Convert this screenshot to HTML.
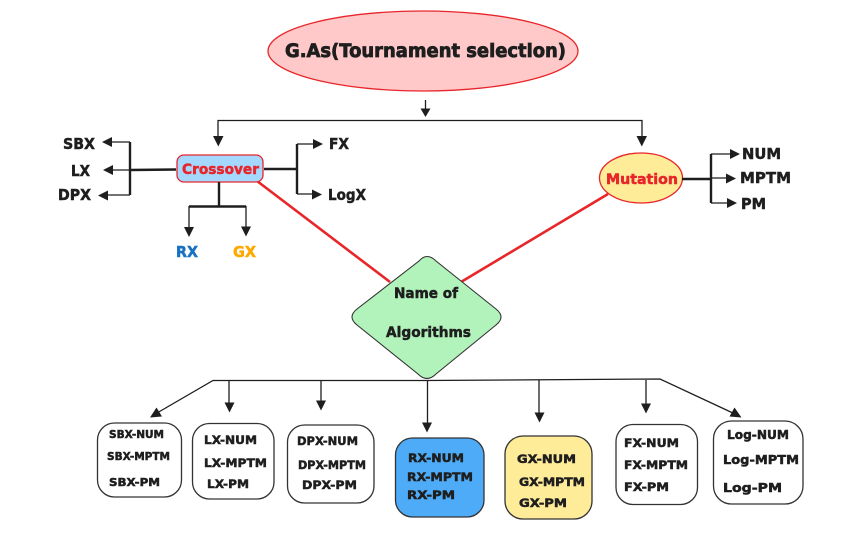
<!DOCTYPE html>
<html><head><meta charset="utf-8"><style>
html,body{margin:0;padding:0;background:#fff}
svg{display:block}
text{font-family:"DejaVu Sans","Liberation Sans",sans-serif;font-weight:bold;fill:#1e1e1e;stroke:#1e1e1e;stroke-width:.5}
.s{fill:none;stroke:#1e1e1e;stroke-width:1.3}
.b{fill:none;stroke:#1e1e1e;stroke-width:2.4}
.h{fill:#1e1e1e;stroke:none}
.box{stroke:#333;stroke-width:1.3;fill:#fff}
.l{font-size:15.5px}
</style></head><body>
<svg width="850" height="535" viewBox="0 0 850 535" xmlns="http://www.w3.org/2000/svg">
<rect width="850" height="535" fill="#fff"/>
<!-- red links -->
<path d="M257 181L390 282M608 194L461 282" fill="none" stroke="#e8262a" stroke-width="2.6"/>
<!-- title -->
<ellipse cx="423" cy="51" rx="155" ry="40" fill="#ffc9c9" stroke="#e8262a" stroke-width="1.3"/>
<text x="285" y="57" font-size="19" textLength="281" lengthAdjust="spacingAndGlyphs" style="stroke-width:.8">G.As(Tournament selection)</text>
<path class="s" d="M425.500 100V110"/><path class="h" d="M420.500 108.500h10l-5 8.500z"/>
<path class="s" d="M218 138V120.500H642V138"/>
<path class="h" d="M213 136h10.500l-5.200 10.500zM636.500 136h10.500l-5.200 10.500z"/>
<!-- crossover -->
<rect x="177" y="155" width="86" height="27" rx="7" fill="#a5d8ff" stroke="#e8262a" stroke-width="1.3"/>
<text x="182" y="174" font-size="14.500" textLength="77" lengthAdjust="spacingAndGlyphs" style="fill:#e8262a;stroke:#e8262a">Crossover</text>
<path class="b" d="M130 142V195M130 170L176 169.500M264 169H297M297 144V194M219 182V206M189 206.500H246"/>
<path class="s" d="M130 142H110M130 170H110M130 195H106M297 144H316M297 194H316M189 206V230M246 206V230"/>
<path class="h" d="M102 142l10-5v10zM103 170l10-5v10zM98 195.500l10-5v10zM323 144l-10-5v10zM322 194.500l-10-5v10zM189 237l-5-10h10zM246 236.500l-5-10h10z"/>
<text class="l" x="63" y="149" textLength="32" lengthAdjust="spacingAndGlyphs">SBX</text>
<text class="l" x="71" y="176" textLength="19" lengthAdjust="spacingAndGlyphs">LX</text>
<text class="l" x="58" y="200" textLength="33" lengthAdjust="spacingAndGlyphs">DPX</text>
<text class="l" x="329" y="149" textLength="20" lengthAdjust="spacingAndGlyphs">FX</text>
<text class="l" x="328" y="200" textLength="38" lengthAdjust="spacingAndGlyphs">LogX</text>
<text class="l" x="176" y="257" textLength="22" lengthAdjust="spacingAndGlyphs" style="fill:#1971c2;stroke:#1971c2">RX</text>
<text class="l" x="233" y="257" textLength="23" lengthAdjust="spacingAndGlyphs" style="fill:#ffa800;stroke:#ffa800">GX</text>
<!-- mutation -->
<ellipse cx="641" cy="178" rx="41.500" ry="25" fill="#ffec99" stroke="#e8262a" stroke-width="1.300"/>
<text x="606" y="184" font-size="14.500" textLength="72" lengthAdjust="spacingAndGlyphs" style="fill:#e8262a;stroke:#e8262a">Mutation</text>
<path class="b" d="M682 179H711M711 154V203"/>
<path class="s" d="M711 154H733M711 178H730M711 203H731"/>
<path class="h" d="M740 154l-10-5v10zM736 178.500l-10-5v10zM737 203l-10-5v10z"/>
<text class="l" x="742" y="159" textLength="39" lengthAdjust="spacingAndGlyphs">NUM</text>
<text class="l" x="740" y="183" textLength="51" lengthAdjust="spacingAndGlyphs">MPTM</text>
<text class="l" x="741" y="209" textLength="25" lengthAdjust="spacingAndGlyphs">PM</text>
<!-- diamond -->
<path d="M419 261Q427 252 436 261L496 309Q506 317 496 325L436 374Q427 383 418 374L357 325Q347 317 357 309Z" fill="#b2f2bb" stroke="#333" stroke-width="1.100"/>
<text x="394" y="298" font-size="14.500" textLength="64" lengthAdjust="spacingAndGlyphs">Name of</text>
<text x="386" y="337" font-size="14.500" textLength="85" lengthAdjust="spacingAndGlyphs">Algorithms</text>
<!-- bus -->
<path class="s" d="M157 413L213 380.500L427 380.500L660 379L735 414"/>
<path class="s" d="M229 381V405M321 381V403M427.500 381V425M539 380V415M646 380V406"/>
<path class="h" d="M150 417.500l6.500-10 5.500 9zM229.500 412.500l-5-10h10zM321 410.500l-5-10h10zM427 432.500l-5-10h10zM539.500 422.500l-5-10h10zM646 413.500l-5-10h10zM741.500 417.500l-12-1 5-9z"/>
<!-- boxes -->
<rect class="box" x="97.500" y="423" width="84" height="74" rx="17"/>
<rect class="box" x="192.500" y="423.500" width="81.500" height="75.500" rx="17"/>
<rect class="box" x="287.500" y="425" width="86.500" height="78" rx="17"/>
<rect class="box" x="395.500" y="438" width="88.500" height="79" rx="17" style="fill:#4dabf7"/>
<rect class="box" x="505" y="436" width="87" height="83" rx="18" style="fill:#ffec99"/>
<rect class="box" x="616" y="424.500" width="81.500" height="80" rx="17"/>
<rect class="box" x="713.500" y="421" width="89.500" height="83" rx="18"/>
<g>
<text x="109" y="438" font-size="10.500" textLength="55" lengthAdjust="spacingAndGlyphs">SBX-NUM</text>
<text x="107" y="460" font-size="10.500" textLength="63" lengthAdjust="spacingAndGlyphs">SBX-MPTM</text>
<text x="109" y="486" font-size="10.500" textLength="51" lengthAdjust="spacingAndGlyphs">SBX-PM</text>
<text x="204" y="444" font-size="11.500" textLength="53" lengthAdjust="spacingAndGlyphs">LX-NUM</text>
<text x="204" y="467" font-size="11.500" textLength="63" lengthAdjust="spacingAndGlyphs">LX-MPTM</text>
<text x="207" y="488" font-size="11.500" textLength="42" lengthAdjust="spacingAndGlyphs">LX-PM</text>
<text x="297" y="445" font-size="11.500" textLength="61" lengthAdjust="spacingAndGlyphs">DPX-NUM</text>
<text x="298" y="469" font-size="11.500" textLength="68" lengthAdjust="spacingAndGlyphs">DPX-MPTM</text>
<text x="302" y="489" font-size="11.500" textLength="55" lengthAdjust="spacingAndGlyphs">DPX-PM</text>
<text x="408" y="462" font-size="11.500" textLength="56" lengthAdjust="spacingAndGlyphs">RX-NUM</text>
<text x="407" y="481" font-size="11.500" textLength="66" lengthAdjust="spacingAndGlyphs">RX-MPTM</text>
<text x="407" y="499" font-size="11.500" textLength="48" lengthAdjust="spacingAndGlyphs">RX-PM</text>
<text x="517" y="463" font-size="11.500" textLength="59" lengthAdjust="spacingAndGlyphs">GX-NUM</text>
<text x="519" y="486" font-size="11.500" textLength="66" lengthAdjust="spacingAndGlyphs">GX-MPTM</text>
<text x="519" y="507" font-size="11.500" textLength="48" lengthAdjust="spacingAndGlyphs">GX-PM</text>
<text x="624" y="447" font-size="11.500" textLength="55" lengthAdjust="spacingAndGlyphs">FX-NUM</text>
<text x="624" y="469" font-size="11.500" textLength="64" lengthAdjust="spacingAndGlyphs">FX-MPTM</text>
<text x="624" y="491" font-size="11.500" textLength="45" lengthAdjust="spacingAndGlyphs">FX-PM</text>
<text x="727" y="439" font-size="12" textLength="62" lengthAdjust="spacingAndGlyphs">Log-NUM</text>
<text x="723" y="464" font-size="12.500" textLength="76" lengthAdjust="spacingAndGlyphs">Log-MPTM</text>
<text x="723" y="492" font-size="12.500" textLength="59" lengthAdjust="spacingAndGlyphs">Log-PM</text>
</g>
</svg>
</body></html>
